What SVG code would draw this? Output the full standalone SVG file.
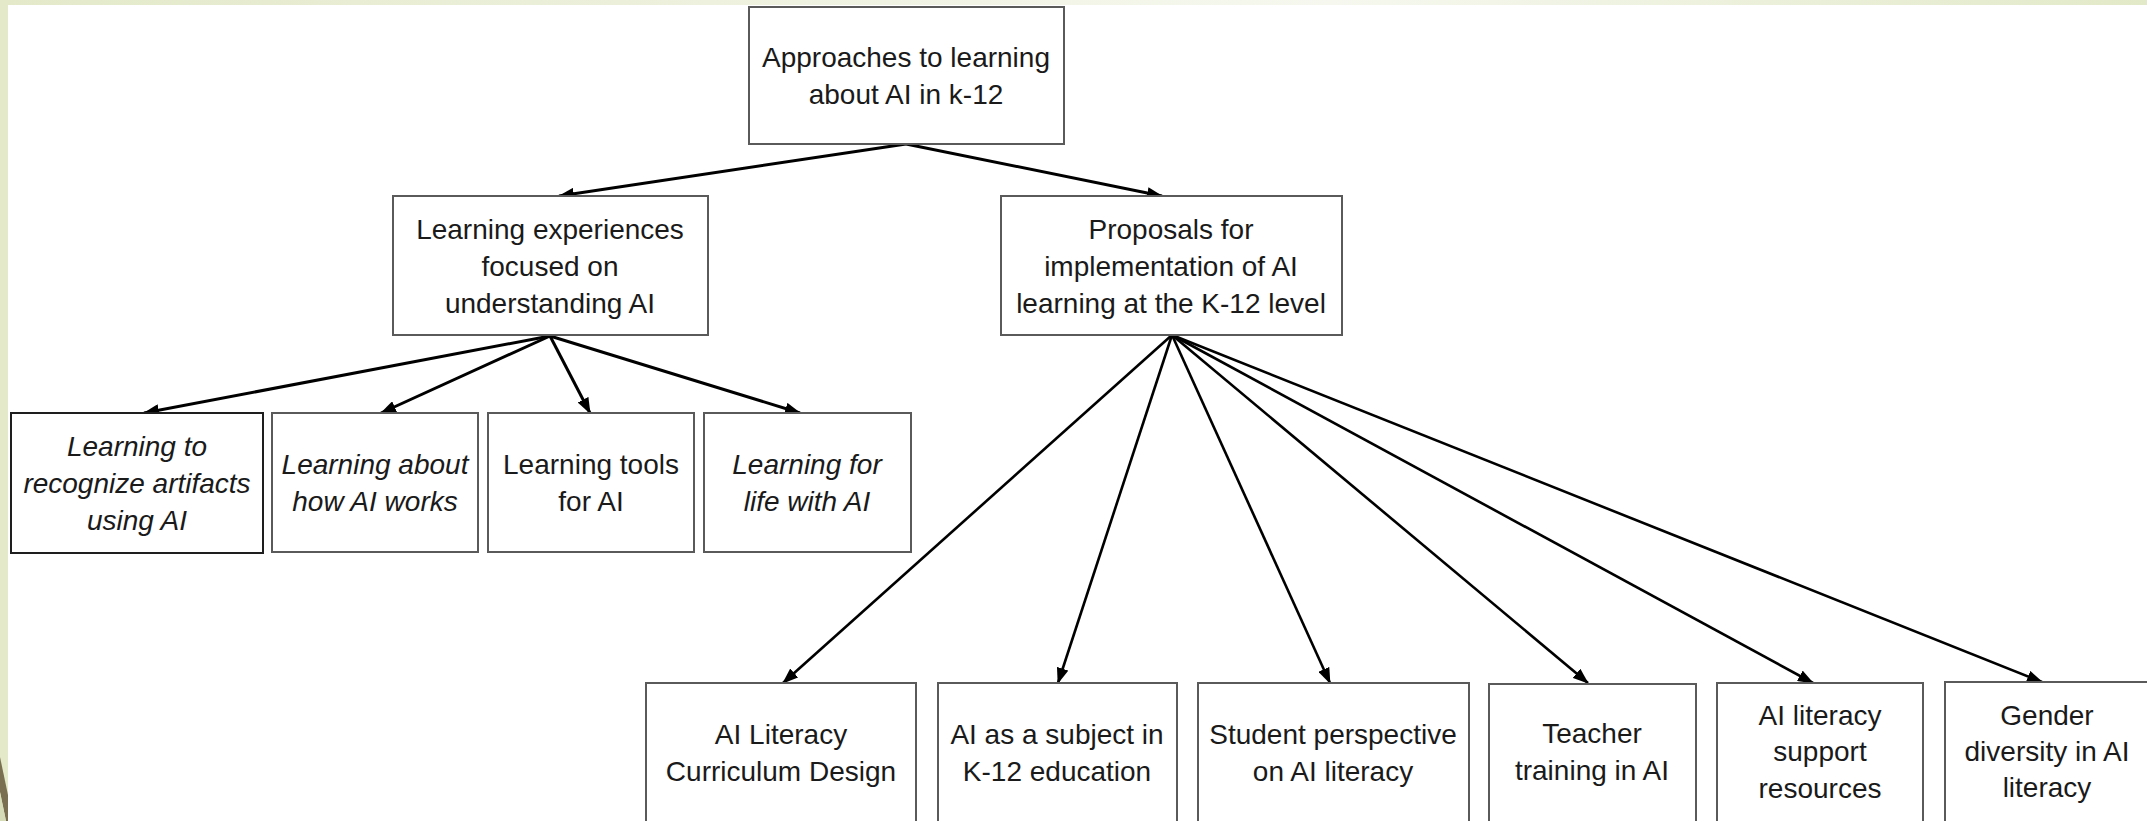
<svg xmlns="http://www.w3.org/2000/svg" width="2147" height="821" viewBox="0 0 2147 821">
<style>
.box{fill:#ffffff;stroke:#5a5a5a;stroke-width:2}
.box.dark{stroke:#1e1e1e}
.t{font-family:"Liberation Sans",Arial,sans-serif;font-size:28px;fill:#1a1a1a;text-anchor:middle}
.i{font-style:italic}
.c{fill:none;stroke:#000;stroke-width:3;marker-end:url(#ah)}
.f{stroke-width:2.6}
</style>
<defs>
<linearGradient id="topbar" x1="0" y1="0" x2="1" y2="0">
<stop offset="0" stop-color="#e3e9c9"/>
<stop offset="0.62" stop-color="#f6f8ef"/>
<stop offset="1" stop-color="#e2e9c8"/>
</linearGradient>
<marker id="ah" viewBox="0 0 16 12" refX="15" refY="6" markerWidth="16" markerHeight="12" markerUnits="userSpaceOnUse" orient="auto">
<path d="M0,0 L16,6 L0,12 Z" fill="#000"/>
</marker>
</defs>
<g id="background">
<rect x="0" y="0" width="2147" height="821" fill="#ffffff"/>
<rect x="0" y="0" width="2147" height="5" fill="url(#topbar)"/>
<rect x="0" y="0" width="8" height="821" fill="#e3e9c9"/>
<polygon points="0,757 8,795 8,821 6,821 0,792" fill="#7a6f50"/>
<polygon points="0,792 6,821 0,821" fill="#d6dcb8"/>
</g>
<g id="connectors">
<line class="c" x1="906" y1="144" x2="559" y2="196"/>
<line class="c" x1="906" y1="144" x2="1162" y2="196"/>
<line class="c" x1="550" y1="336" x2="144" y2="413"/>
<line class="c" x1="550" y1="336" x2="381" y2="413"/>
<line class="c" x1="550" y1="336" x2="590" y2="413"/>
<line class="c" x1="550" y1="336" x2="800" y2="413"/>
<line class="c f" x1="1172" y1="335" x2="783" y2="683"/>
<line class="c f" x1="1172" y1="335" x2="1058" y2="683"/>
<line class="c f" x1="1172" y1="335" x2="1330" y2="683"/>
<line class="c f" x1="1172" y1="335" x2="1588" y2="683"/>
<line class="c f" x1="1172" y1="335" x2="1813" y2="683"/>
<line class="c f" x1="1172" y1="335" x2="2042" y2="682"/>
</g>
<g id="root">
<rect class="box" x="749" y="7" width="315" height="137"/>
<text class="t" x="906" y="67">Approaches to learning</text>
<text class="t" x="906" y="104">about AI in k-12</text>
</g>
<g id="learning-experiences">
<rect class="box" x="393" y="196" width="315" height="139"/>
<text class="t" x="550" y="239">Learning experiences</text>
<text class="t" x="550" y="276">focused on</text>
<text class="t" x="550" y="313">understanding AI</text>
</g>
<g id="proposals">
<rect class="box" x="1001" y="196" width="341" height="139"/>
<text class="t" x="1171" y="239">Proposals for</text>
<text class="t" x="1171" y="276">implementation of AI</text>
<text class="t" x="1171" y="313">learning at the K-12 level</text>
</g>
<g id="recognize-artifacts">
<rect class="box dark" x="11" y="413" width="252" height="140"/>
<text class="t i" x="137" y="456">Learning to</text>
<text class="t i" x="137" y="493">recognize artifacts</text>
<text class="t i" x="137" y="530">using AI</text>
</g>
<g id="how-ai-works">
<rect class="box" x="272" y="413" width="206" height="139"/>
<text class="t i" x="375" y="474">Learning about</text>
<text class="t i" x="375" y="511">how AI works</text>
</g>
<g id="learning-tools">
<rect class="box" x="488" y="413" width="206" height="139"/>
<text class="t" x="591" y="474">Learning tools</text>
<text class="t" x="591" y="511">for AI</text>
</g>
<g id="life-with-ai">
<rect class="box" x="704" y="413" width="207" height="139"/>
<text class="t i" x="807" y="474">Learning for</text>
<text class="t i" x="807" y="511">life with AI</text>
</g>
<g id="curriculum-design">
<rect class="box" x="646" y="683" width="270" height="145"/>
<text class="t" x="781" y="744">AI Literacy</text>
<text class="t" x="781" y="781">Curriculum Design</text>
</g>
<g id="ai-subject">
<rect class="box" x="938" y="683" width="239" height="145"/>
<text class="t" x="1057" y="744">AI as a subject in</text>
<text class="t" x="1057" y="781">K-12 education</text>
</g>
<g id="student-perspective">
<rect class="box" x="1198" y="683" width="271" height="145"/>
<text class="t" x="1333" y="744">Student perspective</text>
<text class="t" x="1333" y="781">on AI literacy</text>
</g>
<g id="teacher-training">
<rect class="box" x="1489" y="684" width="207" height="145"/>
<text class="t" x="1592" y="743">Teacher</text>
<text class="t" x="1592" y="780">training in AI</text>
</g>
<g id="support-resources">
<rect class="box" x="1717" y="683" width="206" height="145"/>
<text class="t" x="1820" y="725">AI literacy</text>
<text class="t" x="1820" y="761">support</text>
<text class="t" x="1820" y="798">resources</text>
</g>
<g id="gender-diversity">
<rect class="box" x="1945" y="682" width="210" height="145"/>
<text class="t" x="2047" y="725">Gender</text>
<text class="t" x="2047" y="761">diversity in AI</text>
<text class="t" x="2047" y="797">literacy</text>
</g>
</svg>
